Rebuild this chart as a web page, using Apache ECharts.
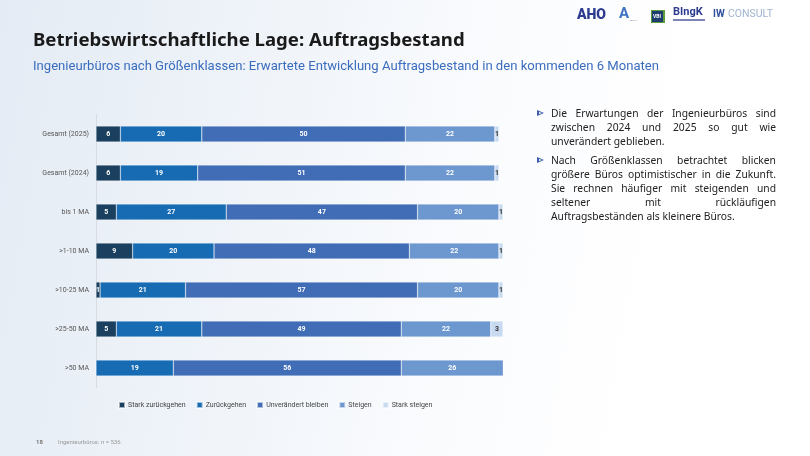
<!DOCTYPE html>
<html>
<head>
<meta charset="utf-8">
<script src="https://cdn.jsdelivr.net/npm/echarts@6/dist/echarts.min.js"></script>
<style>
html,body{margin:0;padding:0;width:810px;height:456px;overflow:hidden;}
body{background:linear-gradient(100deg,#e4ebf4 0%,#f1f5fa 35%,#fbfcfe 60%,#ffffff 80%);font-family:"Noto Sans",sans-serif;}
#chart{position:absolute;left:0;top:0;width:810px;height:456px;}
#side{position:absolute;left:536px;top:106px;width:240px;font-family:"Noto Sans",sans-serif;font-size:10.3px;line-height:14px;color:#222;}
#side .p{margin:0 0 5px 0;padding-left:15px;position:relative;}
#side .l{display:block;white-space:nowrap;text-align:justify;text-align-last:justify;}
#side .l.last{text-align:left;text-align-last:left;}
#side .p:before{content:"";position:absolute;left:1px;top:4px;width:0;height:0;border-left:7px solid #3d5fae;border-top:3.5px solid transparent;border-bottom:3.5px solid transparent;}
#side .p:after{content:"";position:absolute;left:2.5px;top:6px;width:0;height:0;border-left:3px solid #fff;border-top:1.5px solid transparent;border-bottom:1.5px solid transparent;}
</style>
</head>
<body>
<div id="chart"></div>
<div id="side">
<div class="p"><span class="l">Die Erwartungen der Ingenieurbüros sind</span><span class="l">zwischen 2024 und 2025 so gut wie</span><span class="l last">unverändert geblieben.</span></div>
<div class="p"><span class="l">Nach Größenklassen betrachtet blicken</span><span class="l">größere Büros optimistischer in die Zukunft.</span><span class="l">Sie rechnen häufiger mit steigenden und</span><span class="l">seltener mit rückläufigen</span><span class="l last">Auftragsbeständen als kleinere Büros.</span></div>
</div>
<script>
const categories = ['Gesamt (2025)', 'Gesamt (2024)', 'bis 1 MA', '>1-10 MA', '>10-25 MA', '>25-50 MA', '>50 MA'];
const seriesNames = ['Stark zurückgehen', 'Zurückgehen', 'Unverändert bleiben', 'Steigen', 'Stark steigen'];
const starkZurueck = [6, 6, 5, 9, 1, 5, 0];
const zurueck = [20, 19, 27, 20, 21, 21, 19];
const unveraendert = [50, 51, 47, 48, 57, 49, 56];
const steigen = [22, 22, 20, 22, 20, 22, 26];
const starkSteigen = [1, 1, 1, 1, 1, 3, 0];

const colors = ['#1b405f', '#166bb3', '#416cb6', '#6c97cf', '#c7daf0'];
const labelColors = ['#fff', '#fff', '#fff', '#fff', '#333'];
const values = [starkZurueck, zurueck, unveraendert, steigen, starkSteigen];

const chart = echarts.init(document.getElementById('chart'), null, {renderer: 'canvas'});
const font = 'Roboto, "Noto Sans", sans-serif';

const series = seriesNames.map((name, i) => ({
  name: name,
  type: 'bar',
  stack: 'total',
  barWidth: 16,
  data: values[i],
  itemStyle: {color: colors[i], borderColor: 'rgba(255,255,255,0.6)', borderWidth: 0.5},
  label: {
    show: true,
    position: 'inside',
    color: labelColors[i],
    fontSize: 7,
    fontWeight: 'bold',
    fontFamily: font,
    formatter: p => (p.value ? String(p.value) : '')
  }
}));

chart.setOption({
  animation: false,
  backgroundColor: 'transparent',
  title: [{
    text: 'Betriebswirtschaftliche Lage: Auftragsbestand',
    left: 33, top: 31.5, padding: 0,
    textStyle: {fontSize: 18.6, fontWeight: 'bold', color: '#1a1a1a', fontFamily: '"Noto Sans", sans-serif'}
  }, {
    text: 'Ingenieurbüros nach Größenklassen: Erwartete Entwicklung Auftragsbestand in den kommenden 6 Monaten',
    left: 33, top: 60, padding: 0,
    textStyle: {fontSize: 13.1, fontWeight: 'normal', color: '#3a6cbd', fontFamily: font}
  }],
  legend: {
    data: seriesNames,
    left: 118, top: 401, padding: 0,
    itemWidth: 6, itemHeight: 6, itemGap: 10,
    icon: 'rect',
    textStyle: {fontSize: 7, color: '#444', fontFamily: font, padding: [0, 0, 0, -2]}
  },
  grid: {left: 96, right: 307, top: 114.5, height: 273, containLabel: false},
  xAxis: {
    type: 'value', min: 0, max: 100,
    show: false
  },
  yAxis: {
    type: 'category',
    data: categories,
    inverse: true,
    axisLine: {show: true, lineStyle: {color: '#d8dce2', width: 1}},
    axisTick: {show: false},
    axisLabel: {fontSize: 7, color: '#555', margin: 7, fontFamily: font}
  },
  series: series,
  graphic: [
    {type: 'text', left: 577, top: 8, style: {text: 'AHO', fontSize: 14, fontWeight: 900, fill: '#2c3b8f', fontFamily: font}},
    {type: 'text', left: 619, top: 7, style: {text: 'A', fontSize: 15, fontWeight: 'bold', fill: '#3e73c4', fontFamily: font}},
    {type: 'text', left: 630, top: 17, style: {text: '____', fontSize: 4, fill: '#777', fontFamily: font}},
    {type: 'rect', shape: {x: 651, y: 10, width: 14, height: 13}, style: {fill: '#5c9c3a'}},
    {type: 'rect', shape: {x: 652, y: 11, width: 11, height: 11}, style: {fill: '#1f3c6e'}},
    {type: 'text', left: 653, top: 14, style: {text: 'VBI', fontSize: 5, fontWeight: 'bold', fill: '#fff', fontFamily: font}},
    {type: 'text', left: 673, top: 7, style: {text: 'BIngK', fontSize: 11, fontWeight: 'bold', fill: '#2c3b8f', fontFamily: font}},
    {type: 'rect', shape: {x: 673, y: 19, width: 32, height: 2}, style: {fill: '#7b86b6'}},
    {type: 'text', left: 713, top: 9, style: {text: 'IW', fontSize: 10, fontWeight: 'bold', fill: '#2d4f9e', fontFamily: font}},
    {type: 'text', left: 728, top: 9, style: {text: 'CONSULT', fontSize: 10.5, fill: '#9fb3cf', fontFamily: font}},
    {type: 'text', left: 36, top: 439, style: {text: '18', fontSize: 6, fontWeight: 'bold', fill: '#777', fontFamily: font}},
    {type: 'text', left: 58, top: 439, style: {text: 'Ingenieurbüros: n = 536', fontSize: 6, fill: '#999', fontFamily: font}}
  ]
});
</script>
</body>
</html>
